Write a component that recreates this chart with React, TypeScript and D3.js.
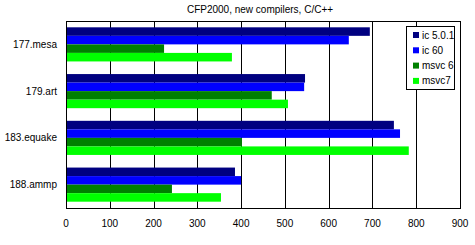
import React from "react";
import * as d3 from "d3";

const categories = ["177.mesa", "179.art", "183.equake", "188.ammp"];
const seriesNames = ["ic 5.0.1", "ic 60", "msvc 6", "msvc7"];
const seriesColors = ["#000080", "#0000FF", "#008000", "#00FF00"];
const ic501 = [694, 546, 749, 386];
const ic60 = [646, 544, 763, 400];
const msvc6 = [224, 470, 402, 242];
const msvc7 = [379, 507, 783, 354];
const xTicks = [0, 100, 200, 300, 400, 500, 600, 700, 800, 900];
const title = "CFP2000, new compilers, C/C++";

const series = [ic501, ic60, msvc6, msvc7];

export default function App() {
  const W = 475, H = 245;
  const left = 66, right = 460, top = 21, bottom = 208;
  const font = "Arial, 'Liberation Sans', sans-serif";
  const fs = 10;
  const x = d3.scaleLinear().domain([0, 900]).range([left, right]);
  const y = d3.scaleBand<string>().domain(categories).range([top, bottom]).paddingInner(0.27).paddingOuter(0.135);
  const inner = d3.scaleBand<number>().domain(d3.range(series.length)).range([0, y.bandwidth()]);
  const legX = 406, legY = 26, legW = 48, legH = 63;
  return (
    <svg width={W} height={H} style={{ position: "absolute", left: 0, top: 0 }} fontFamily={font}>
      <rect x={0} y={0} width={W} height={H} fill="#fff" />
      <text x={260} y={9} dy="0.35em" textAnchor="middle" fontSize={fs} fill="#000">{title}</text>
      {xTicks.map((t) => (
        <line key={t} x1={Math.round(x(t)) + 0.5} x2={Math.round(x(t)) + 0.5} y1={top} y2={bottom} stroke="#000" strokeWidth={1} />
      ))}
      {categories.map((c, ci) =>
        series.map((s, si) => (
          <rect key={c + si} x={x(0)} y={(y(c) as number) + (inner(si) as number)} width={x(s[ci]) - x(0)} height={inner.bandwidth()} fill={seriesColors[si]} />
        ))
      )}
      <rect x={left + 0.5} y={top + 0.5} width={right - left} height={bottom - top} fill="none" stroke="#000" strokeWidth={1} />
      {categories.map((c) => (
        <text key={c} x={57} y={(y(c) as number) + y.bandwidth() / 2} dy="0.35em" textAnchor="end" fontSize={fs} fill="#000">{c}</text>
      ))}
      {xTicks.map((t) => (
        <text key={t} x={x(t)} y={223} dy="0.35em" textAnchor="middle" fontSize={fs} fill="#000">{t}</text>
      ))}
      <rect x={legX + 0.5} y={legY + 0.5} width={legW} height={legH} fill="#fff" stroke="#000" strokeWidth={1} />
      {seriesNames.map((n, i) => (
        <g key={n}>
          <rect x={413} y={32 + i * 15.3} width={6} height={6} fill={seriesColors[i]} />
          <text x={422} y={35 + i * 15.3} dy="0.35em" fontSize={fs} fill="#000">{n}</text>
        </g>
      ))}
    </svg>
  );
}
